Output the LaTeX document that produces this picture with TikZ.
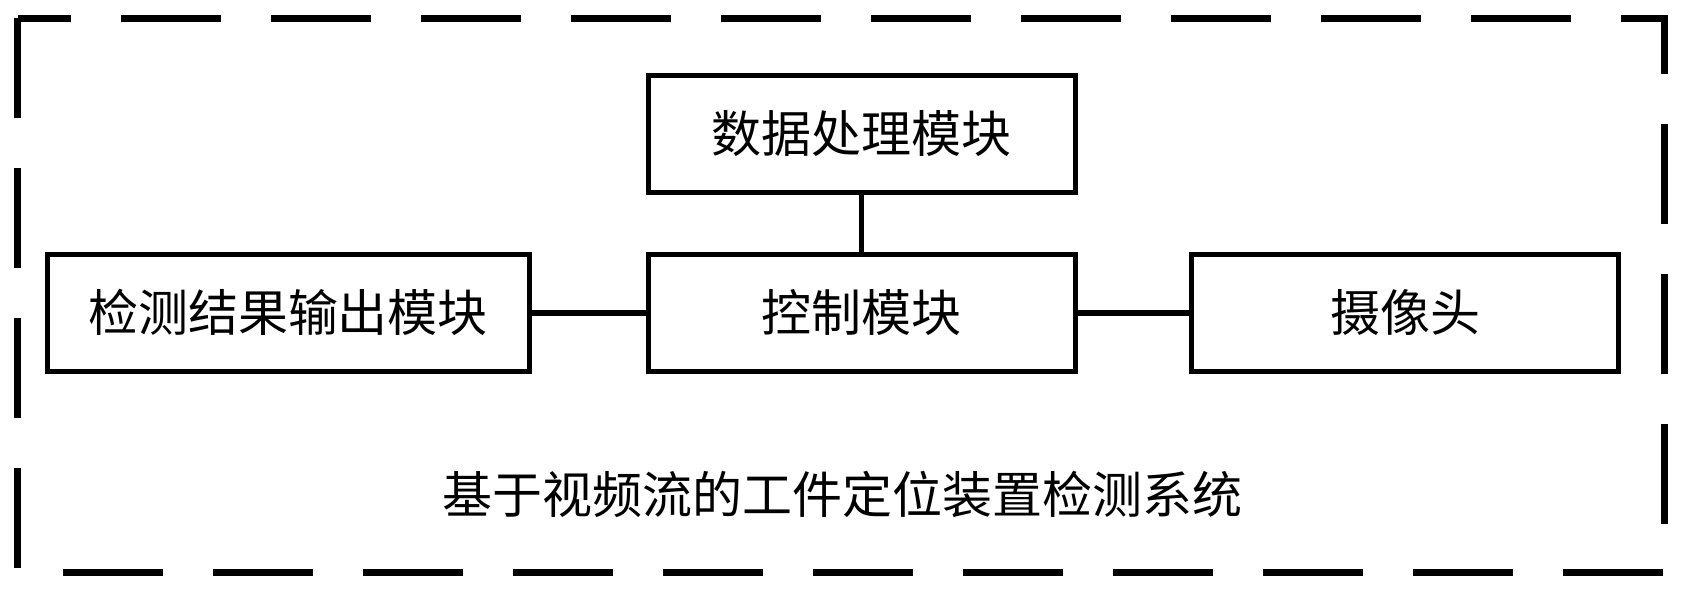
\documentclass[tikz,border=0pt]{standalone}
\usepackage{fontspec}
\newfontfamily\cjk{Noto Sans CJK SC}
\begin{document}
\begin{tikzpicture}[x=1pt,y=-1pt,
  modbox/.style={draw=black, line width=5pt, inner sep=0pt, align=center,
    font=\cjk\fontsize{50}{50}\selectfont},
  link/.style={draw=black, line width=5.5pt},
  frame/.style={draw=black, line width=7pt, dash pattern=on 100pt off 50pt, line cap=butt, line join=miter},
  caption/.style={font=\cjk\fontsize{50}{50}\selectfont, inner sep=0pt}]
\useasboundingbox (0,0) rectangle (1682,590);
\draw[frame] (17.5,18) -- (17.5,572.5) -- (1664.5,572.5) -- (1664.5,18) -- cycle;
\node[modbox, minimum width=427pt, minimum height=117pt] (data) at (861.5,134) {数据处理模块};
\node[modbox, minimum width=427pt, minimum height=117.5pt] (ctrl) at (861.5,312.75) {控制模块};
\node[modbox, minimum width=482pt, minimum height=117.5pt] (out) at (288,312.75) {检测结果输出模块};
\node[modbox, minimum width=426.5pt, minimum height=117.5pt] (cam) at (1405,312.75) {摄像头};
\node[caption] (sys) at (842,494) {基于视频流的工件定位装置检测系统};
\draw[link] (data.south) -- (ctrl.north);
\draw[link] (out.east) -- (ctrl.west);
\draw[link] (ctrl.east) -- (cam.west);
\end{tikzpicture}
\end{document}
